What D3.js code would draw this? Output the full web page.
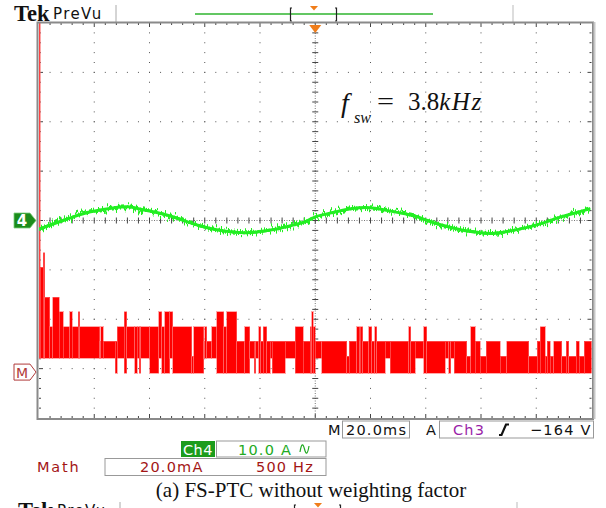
<!DOCTYPE html>
<html><head><meta charset="utf-8">
<script src="https://cdn.jsdelivr.net/npm/d3@7"></script>
<style>body{margin:0;background:#fff}svg{display:block}</style>
</head><body>
<svg id="c" width="606" height="508"></svg>
<script>
// ---------- data ----------
const greenTimeMs = [0,3.98,10.03,15.93,22.08,28.13,32.33,36.56,42.61,48.62,53.47,58.28,64.33,70.34,74.57,80.0,86.05,92.06,96.91,99.91,106.5,112.6,120.2,125.9,130.7,136.7,140.3,146.4,152.4,159.6,163.9,169.3,176.5,182.6,188.6,194.6,199.5];
const greenAmps = [-1.78,-0.91,0.24,1.46,2.13,2.67,2.94,2.27,1.66,0.77,-0.24,-1.11,-1.92,-2.39,-2.59,-2.27,-1.78,-0.91,-0.24,0.9,1.58,2.47,2.79,1.98,1.58,0.91,-0.04,-1.05,-1.92,-2.47,-2.73,-2.27,-1.46,-0.57,0.77,1.58,2.4];

const mathStartMs = [0,0.54,1.45,2.17,3.98,4.89,7.24,8.69,11.22,11.95,14.12,14.84,22.08,22.44,23.17,27.69,28.24,30.77,31.68,34.75,35.48,36.38,36.92,40.18,43.26,44.35,45.61,47.42,48.33,55.21,55.93,59.55,60.09,60.64,62.45,64.26,66.79,67.88,71.5,74.57,76.38,77.83,78.55,79.46,80.36,81.09,82.36,83.62,84.35,89.05,92.67,95.57,98.1,98.65,99.19,99.91,102.27,111.32,112.22,114.94,116.02,116.2,117.11,119.28,120.37,121.45,122.18,125.25,127.06,133.76,134.48,136.11,139.19,140.28,146.97,148.24,149.14,150.23,154.76,156.2,157.83,159.64,161.81,166.88,169.24,177.2,180.28,181.36,183.17,183.9,184.98,186.25,189.15,190.77,191.68,194.39,195.48,197.29];
const mathHiMa = [240,42,48,30,18,30,24,18,24,18,24,18,12,18,12,12,18,24,18,18,18,18,18,18,24,18,24,24,18,6,18,12,18,12,18,24,18,24,12,18,12,12,12,18,12,18,12,12,12,12,18,12,18,24,18,12,12,6,12,18,12,18,12,18,12,18,12,12,12,18,12,12,18,12,12,12,12,12,6,18,12,6,12,6,12,6,12,18,6,12,6,12,6,12,6,12,6,12];
const mathLoMa = [6,6,6,6,6,6,6,6,6,6,6,6,6,6,6,0,6,0,6,0,6,0,6,0,6,0,0,6,0,0,0,6,6,6,6,0,0,0,0,0,6,0,6,0,0,0,0,6,0,6,0,0,0,0,0,6,0,0,0,0,0,0,0,0,0,0,0,6,0,0,0,6,0,0,6,0,6,0,0,0,0,0,0,0,0,0,0,0,0,0,0,0,0,0,0,0,0,0];
const mathEndMs = 200;

const timeDivisions = 10, voltDivisions = 8, minorPerDiv = 5;
const timebaseLabel = "20.0ms", triggerLabel = "\u2212164 V", triggerSource = "Ch3";
const ch4Label = "Ch4", ch4ScaleLabel = "10.0 A", ch4AmpsPerDiv = 10;
const mathLabel = "Math", mathScaleLabel = "20.0mA", mathRateLabel = "500 Hz", mathMaPerDiv = 20, mathOffsetDiv = -3.07;
const caption = "(a) FS-PTC without weighting factor";

// ---------- geometry ----------
const X0 = 39, X1 = 591.5, Y0 = 23, Y1 = 418;
const svg = d3.select("#c");
const x = d3.scaleLinear().domain([0, 200]).range([X0, X1]);
const xDiv = d3.scaleLinear().domain([0, timeDivisions]).range([X0, X1]);
const yDiv = d3.scaleLinear().domain([-voltDivisions/2, voltDivisions/2]).range([Y1, Y0]);
const yCh4 = a => yDiv(a / ch4AmpsPerDiv);
const yMath = m => yDiv(mathOffsetDiv + m / mathMaPerDiv);

const defs = svg.append("defs");
defs.append("clipPath").attr("id","plotclip").append("rect")
  .attr("x", X0).attr("y", Y0).attr("width", X1-X0).attr("height", Y1-Y0);
const f = defs.append("filter").attr("id","noise").attr("filterUnits","userSpaceOnUse")
  .attr("x",0).attr("y",0).attr("width",606).attr("height",508)
  .attr("color-interpolation-filters","sRGB");
f.append("feTurbulence").attr("type","fractalNoise").attr("baseFrequency","0.8 0.03")
  .attr("numOctaves",2).attr("seed",7).attr("result","t");
f.append("feColorMatrix").attr("in","t").attr("type","matrix")
  .attr("values","0 0 0 0 0.5  0 1 0 0 0  0 0 1 0 0  0 0 0 0 1").attr("result","m");
f.append("feDisplacementMap").attr("in","SourceGraphic").attr("in2","m")
  .attr("scale",15).attr("xChannelSelector","R").attr("yChannelSelector","G");

// ---------- header ----------
function header(g){
  g.append("text").attr("x",14).attr("y",21).text("Tek")
    .style("font-family","Liberation Serif").style("font-weight","bold").style("font-size","22.5px").attr("fill","#111");
  g.append("text").attr("x",53).attr("y",19).text("PreVu")
    .style("font-family","DejaVu Sans").style("font-size","15px").style("letter-spacing","1.4px").attr("fill","#111");
  g.append("line").attr("x1",116).attr("x2",116).attr("y1",5).attr("y2",22).attr("stroke","#aaa");
  g.append("line").attr("x1",513).attr("x2",513).attr("y1",5).attr("y2",22).attr("stroke","#bbb");
  g.append("line").attr("x1",195).attr("x2",433).attr("y1",14).attr("y2",14).attr("stroke","#2fb52f").attr("stroke-width",1.3);
  g.append("path").attr("d","M292,8 h-1.5 v13 h1.5").attr("fill","none").attr("stroke","#222").attr("stroke-width",1.2);
  g.append("path").attr("d","M335,8 h1.5 v13 h-1.5").attr("fill","none").attr("stroke","#222").attr("stroke-width",1.2);
  g.append("path").attr("d","M310,6 L318,6 L314,10.5 Z").attr("fill","#f07d1a");
}
header(svg.append("g"));
header(svg.append("g").attr("transform","translate(4,497)"));

// ---------- grid ----------
const grid = svg.append("g");
const dotCol = "#555";
for (let i = 1; i < timeDivisions; i++) {
  if (i === timeDivisions/2) continue;
  for (let j = 1; j < voltDivisions*minorPerDiv; j++) {
    grid.append("rect").attr("x", xDiv(i)-0.5).attr("y", yDiv(-4 + j/minorPerDiv)-0.5)
      .attr("width",1).attr("height",1).attr("fill",dotCol);
  }
}
for (let k = -3; k <= 3; k++) {
  if (k === 0) continue;
  for (let j = 1; j < timeDivisions*minorPerDiv; j++) {
    grid.append("rect").attr("x", xDiv(j/minorPerDiv)-0.5).attr("y", yDiv(k)-0.5)
      .attr("width",1).attr("height",1).attr("fill",dotCol);
  }
}
// centre cross
grid.append("line").attr("x1",xDiv(5)).attr("x2",xDiv(5)).attr("y1",Y0).attr("y2",Y1)
  .attr("stroke","#777").attr("stroke-dasharray","1,1.5");
grid.append("line").attr("x1",X0).attr("x2",X1).attr("y1",yDiv(0)).attr("y2",yDiv(0))
  .attr("stroke","#777").attr("stroke-dasharray","1,1.5");
for (let j = 1; j < voltDivisions*minorPerDiv; j++) {
  const yy = yDiv(-4 + j/minorPerDiv);
  grid.append("line").attr("x1",xDiv(5)-3).attr("x2",xDiv(5)+3).attr("y1",yy).attr("y2",yy).attr("stroke","#444");
}
for (let j = 1; j < timeDivisions*minorPerDiv; j++) {
  const xx = xDiv(j/minorPerDiv);
  grid.append("line").attr("x1",xx).attr("x2",xx).attr("y1",yDiv(0)-3).attr("y2",yDiv(0)+3).attr("stroke","#444");
}
// border ticks
for (let j = 1; j < timeDivisions*minorPerDiv; j++) {
  const xx = xDiv(j/minorPerDiv), L = j % minorPerDiv === 0 ? 4 : 2;
  grid.append("line").attr("x1",xx).attr("x2",xx).attr("y1",Y0).attr("y2",Y0+L).attr("stroke","#444");
  grid.append("line").attr("x1",xx).attr("x2",xx).attr("y1",Y1).attr("y2",Y1-L).attr("stroke","#444");
}
for (let j = 1; j < voltDivisions*minorPerDiv; j++) {
  const yy = yDiv(-4 + j/minorPerDiv), L = j % minorPerDiv === 0 ? 4 : 2;
  grid.append("line").attr("x1",X0).attr("x2",X0+L).attr("y1",yy).attr("y2",yy).attr("stroke","#444");
  grid.append("line").attr("x1",X1).attr("x2",X1-L).attr("y1",yy).attr("y2",yy).attr("stroke","#444");
}

// ---------- traces ----------
const plot = svg.append("g").attr("clip-path","url(#plotclip)");
// math (red)
const segs = mathStartMs.map((s,i)=>({s, e: i+1<mathStartMs.length ? mathStartMs[i+1] : mathEndMs, hi: mathHiMa[i], lo: mathLoMa[i]}));
plot.append("g").selectAll("rect").data(segs).join("rect")
  .attr("x", d => x(d.s)).attr("width", d => Math.max(0.8, x(d.e)-x(d.s)))
  .attr("y", d => yMath(d.hi)-1).attr("height", d => yMath(d.lo)-yMath(d.hi)+2)
  .attr("fill","#ff0000").attr("stroke","#ff7070").attr("stroke-width",0.6)
  .attr("shape-rendering","crispEdges");
// ch4 (green)
const gpts = greenTimeMs.map((t,i)=>[x(t), yCh4(greenAmps[i])]);
const line = d3.line().curve(d3.curveBasis);
plot.append("path").attr("d", line(gpts)).attr("fill","none").attr("stroke","#22ee22").attr("stroke-width",3);
plot.append("path").attr("d", line(gpts)).attr("fill","none").attr("stroke","#22ee22").attr("stroke-width",3)
  .attr("filter","url(#noise)");

// ---------- frame ----------
svg.append("rect").attr("x",X0-1.5).attr("y",Y0-0.5).attr("width",X1-X0+3).attr("height",Y1-Y0+1.5)
  .attr("fill","none").attr("stroke","#8a8a8a").attr("stroke-width",2);
svg.append("line").attr("x1",X1+3).attr("x2",X1+3).attr("y1",Y0-1).attr("y2",Y1+1).attr("stroke","#c8c8c8").attr("stroke-width",2);
// trigger position marker
const tx = x(100);
svg.append("path").attr("d",`M${tx-6},${Y0+2} L${tx+6},${Y0+2} L${tx},${Y0+10} Z`).attr("fill","#f07d1a");

// channel markers
const yc = yDiv(0);
svg.append("path").attr("d",`M14,${yc-7.5} H30 L36,${yc} L30,${yc+7.5} H14 Z`).attr("fill","#1b8c1b").attr("stroke","#7ccf7c").attr("stroke-width",0.8);
svg.append("text").attr("x",22).attr("y",yc+5.5).attr("text-anchor","middle").text("4")
  .style("font-family","DejaVu Sans").style("font-weight","bold").style("font-size","15px").attr("fill","#fff");
const ym = yMath(0);
svg.append("path").attr("d",`M14,${ym-8} H30 L36,${ym} L30,${ym+8} H14 Z`).attr("fill","#fff").attr("stroke","#b03a3a").attr("stroke-width",1);
svg.append("text").attr("x",22).attr("y",ym+5.5).attr("text-anchor","middle").text("M")
  .style("font-family","DejaVu Sans").style("font-size","14px").attr("fill","#b03a3a");

// annotation
const ann = svg.append("g").style("font-family","Liberation Serif").attr("fill","#111");
ann.append("text").attr("x",341).attr("y",112).text("f").style("font-style","italic").style("font-size","28px");
ann.append("text").attr("x",354).attr("y",123).text("sw").style("font-style","italic").style("font-size","16px");
ann.append("text").attr("x",377).attr("y",110).text("=").style("font-size","25px")
  .attr("textLength",17).attr("lengthAdjust","spacingAndGlyphs");
ann.append("text").attr("x",408).attr("y",110).style("font-size","25px")
  .call(t=>{ t.append("tspan").text("3.8"); t.append("tspan").text("kHz").style("font-style","italic").style("letter-spacing","1.5px"); });

// ---------- readouts ----------
const ro = svg.append("g").style("font-family","DejaVu Sans").style("font-size","14.5px").style("letter-spacing","1.2px");
ro.append("text").attr("x",328).attr("y",435).text("M").attr("fill","#111");
ro.append("rect").attr("x",342.5).attr("y",421).attr("width",67).attr("height",17).attr("fill","#fff").attr("stroke","#999");
ro.append("text").attr("x",346).attr("y",435).text(timebaseLabel).attr("fill","#111");
ro.append("text").attr("x",426).attr("y",435).text("A").attr("fill","#111");
ro.append("rect").attr("x",439.5).attr("y",421).attr("width",154).attr("height",17).attr("fill","#fff").attr("stroke","#999");
ro.append("text").attr("x",453).attr("y",435).text(triggerSource).attr("fill","#9a1fa8");
ro.append("path").attr("d","M499,435 h2.5 l4.5,-10.5 h3").attr("fill","none").attr("stroke","#111").attr("stroke-width",2.2);
ro.append("text").attr("x",530).attr("y",435).text(triggerLabel).attr("fill","#111");

ro.append("rect").attr("x",181).attr("y",441).attr("width",34).attr("height",16).attr("fill","#1c9c1c");
ro.append("text").attr("x",183).attr("y",454.5).text(ch4Label).attr("fill","#fff").style("letter-spacing","0.5px");
ro.append("rect").attr("x",216.5).attr("y",441).attr("width",109.5).attr("height",16).attr("fill","#fff").attr("stroke","#999");
ro.append("text").attr("x",238).attr("y",454.5).text(ch4ScaleLabel).attr("fill","#22aa22");
ro.append("path").attr("d","M300,452 c1.5,-9 3,-9 4.5,-3 s3,6 4.5,-3").attr("fill","none").attr("stroke","#22aa22").attr("stroke-width",1.2);

ro.append("text").attr("x",37).attr("y",472).text(mathLabel).attr("fill","#a31515").style("letter-spacing","1.8px");
ro.append("rect").attr("x",105).attr("y",458.5).attr("width",221).attr("height",17).attr("fill","#fff").attr("stroke","#999");
ro.append("text").attr("x",140).attr("y",472).text(mathScaleLabel).attr("fill","#a31515");
ro.append("text").attr("x",256).attr("y",472).text(mathRateLabel).attr("fill","#a31515");

svg.append("text").attr("x",311).attr("y",497).attr("text-anchor","middle").text(caption)
  .style("font-family","Liberation Serif").style("font-size","21px").attr("fill","#111");
</script>
</body></html>
